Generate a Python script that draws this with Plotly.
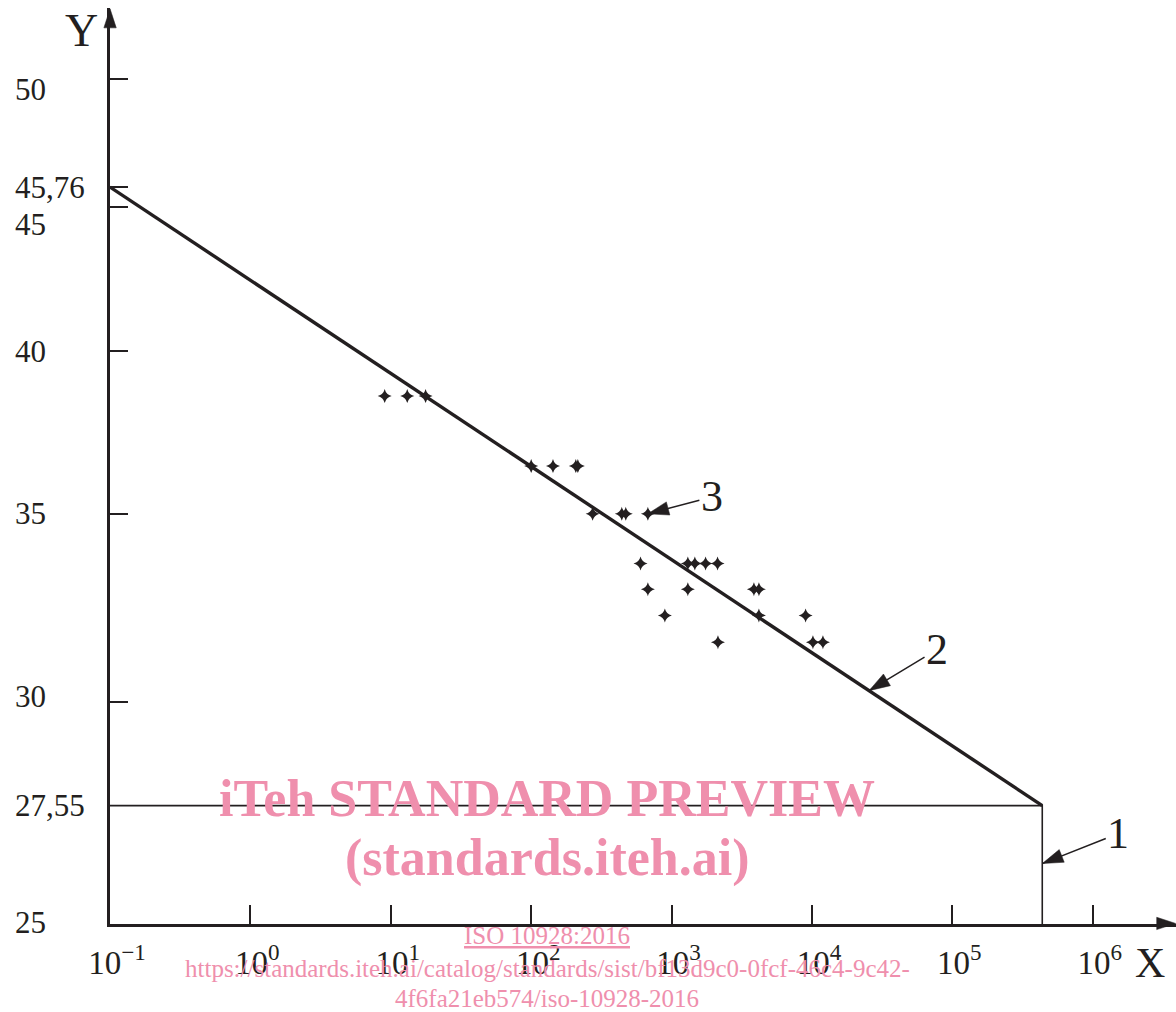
import math
import plotly.graph_objects as go

# ---------------- data ----------------
# measured points (crosses)
point_x = [9.05, 13.1, 17.7,
           100, 143, 208, 215,
           274, 442, 472, 678,
           601, 1306, 1465, 1747, 2126,
           678, 1306, 3860, 4190,
           896, 4190, 9010,
           2140, 10160, 11970]
point_y = [38.55, 38.55, 38.55,
           36.4, 36.4, 36.4, 36.4,
           35.0, 35.0, 35.0, 35.0,
           33.6, 33.6, 33.6, 33.6, 33.6,
           32.9, 32.9, 32.9, 32.9,
           32.2, 32.2, 32.2,
           31.5, 31.5, 31.5]

# regression line (2)
fit_x = [0.1, 4.37e5]
fit_y = [45.76, 27.55]

# limit lines (1)
limit_x = 4.37e5
limit_y = 27.55
y_floor = 25

# axis ticks
x_tick_vals = [0.1, 1, 10, 100, 1e3, 1e4, 1e5, 1e6]
x_tick_text = ["10<sup>−1</sup>", "10<sup>0</sup>", "10<sup>1</sup>", "10<sup>2</sup>",
               "10<sup>3</sup>", "10<sup>4</sup>", "10<sup>5</sup>", "10<sup>6</sup>"]
y_tick_marks = [30, 35, 40, 45, 45.76, 50]
y_label_vals = [25, 27.55, 30, 35, 40, 45, 45.76, 50]
y_label_text = ["25", "27,55", "30", "35", "40", "45", "45,76", "50"]

# callout targets
callout_labels = ["3", "2", "1"]
callout_2_x = 2.55e4
callout_1_y = 26.27

# ---------------- styles ----------------
INK = "#231f20"
PINK = "#ef8fad"
SERIF = "Liberation Serif, Times New Roman, serif"
X_RANGE = [-1, 6.593]
Y_RANGE = [math.log10(25), math.log10(53)]
label_nudge = {"50": -10, "45": -17, "30": 5, "25": 2}
callout_offsets = [(64, -17), (68, -41), (76, -30)]

fig = go.Figure()

# regression line
fig.add_trace(go.Scatter(x=fit_x, y=fit_y, mode="lines",
                         line=dict(color=INK, width=3.4), hoverinfo="skip"))
# limit lines
fig.add_trace(go.Scatter(x=[fit_x[0], limit_x, limit_x], y=[limit_y, limit_y, y_floor],
                         mode="lines", line=dict(color=INK, width=1.6),
                         hoverinfo="skip", cliponaxis=False))
# data points
fig.add_trace(go.Scatter(x=point_x, y=point_y, mode="markers",
                         marker=dict(symbol="star-diamond", size=10, color=INK,
                                     line=dict(width=0)),
                         hoverinfo="skip"))

# callouts
def log_interp_y(x):
    lx0, lx1 = math.log10(fit_x[0]), math.log10(fit_x[1])
    ly0, ly1 = math.log10(fit_y[0]), math.log10(fit_y[1])
    t = (math.log10(x) - lx0) / (lx1 - lx0)
    return 10 ** (ly0 + t * (ly1 - ly0))

callout_targets = [(point_x[10], point_y[10]),
                   (callout_2_x, log_interp_y(callout_2_x)),
                   (limit_x, callout_1_y)]

annotations = []
head_x, head_y, head_a = [], [], []
for lab, (tx, ty), (ax, ay) in zip(callout_labels, callout_targets, callout_offsets):
    annotations.append(dict(x=math.log10(tx), y=math.log10(ty), xref="x", yref="y",
                            text=lab, showarrow=True, ax=ax, ay=ay,
                            arrowhead=0, arrowwidth=1.5, arrowcolor=INK,
                            font=dict(family=SERIF, size=44, color=INK)))
    head_x.append(tx)
    head_y.append(ty)
    head_a.append(math.degrees(math.atan2(-ax, ay)))

# axis arrow heads (just inside the axis ranges so they are not dropped)
head_x += [10 ** (X_RANGE[0] + 0.0005), 10 ** (X_RANGE[1] - 0.002)]
head_y += [10 ** (Y_RANGE[1] - 0.0003), 10 ** (Y_RANGE[0] + 0.0002)]
head_a += [0, 90]
sizes = [22, 22, 22, 20, 20]
fig.add_trace(go.Scatter(x=head_x, y=head_y, mode="markers", cliponaxis=False,
                         marker=dict(symbol="arrow", size=sizes, angle=head_a,
                                     color=INK, opacity=1, line=dict(width=0.5, color=INK)),
                         hoverinfo="skip"))

# y labels (left aligned)
for val, txt in zip(y_label_vals, y_label_text):
    annotations.append(dict(xref="paper", x=0, xshift=-97, xanchor="left",
                            yref="y", y=math.log10(val), yshift=label_nudge.get(txt, 0),
                            yanchor="middle", text=txt, showarrow=False,
                            font=dict(family=SERIF, size=31, color=INK)))

# axis names
annotations.append(dict(xref="paper", x=0, xshift=-29, yref="paper", y=1, yshift=-22,
                        xanchor="center", yanchor="middle",
                        text="Y", showarrow=False,
                        font=dict(family=SERIF, size=46, color=INK)))
annotations.append(dict(xref="paper", x=1, xshift=-26, yref="paper", y=0, yshift=-39,
                        xanchor="center", yanchor="middle",
                        text="X", showarrow=False,
                        font=dict(family=SERIF, size=42, color=INK)))

# watermark
wm = [("<b>iTeh STANDARD PREVIEW</b>", 0.1368, 52),
      ("<b>(standards.iteh.ai)</b>", 0.0725, 52),
      ("<u>ISO 10928:2016</u>", -0.0127, 25),
      ("https://standards.iteh.ai/catalog/standards/sist/bf13d9c0-0fcf-46c4-9c42-", -0.0486, 25),
      ("4f6fa21eb574/iso-10928-2016", -0.0813, 25)]
for txt, py, fs in wm:
    annotations.append(dict(xref="paper", x=0.41, yref="paper", y=py,
                            xanchor="center", yanchor="middle", text=txt, showarrow=False,
                            font=dict(family=SERIF, size=fs, color=PINK)))

fig.update_layout(
    width=1176, height=1012,
    margin=dict(l=110, r=0, t=8, b=88, pad=0),
    paper_bgcolor="white", plot_bgcolor="white",
    showlegend=False,
    annotations=annotations,
    xaxis=dict(type="log", range=X_RANGE, showgrid=False, zeroline=False,
               showline=True, linewidth=3, linecolor=INK,
               ticks="inside", ticklen=19, tickwidth=1.5, tickcolor=INK,
               tickvals=x_tick_vals, ticktext=x_tick_text,
               tickfont=dict(family=SERIF, size=33, color=INK),
               ticklabelstandoff=7, ticklabelshift=7),
    yaxis=dict(type="log", range=Y_RANGE, showgrid=False, zeroline=False,
               showline=True, linewidth=3, linecolor=INK,
               ticks="inside", ticklen=18, tickwidth=1.5, tickcolor=INK,
               tickvals=y_tick_marks, showticklabels=False),
)

fig.write_html("out.html", config={"displayModeBar": False},
               post_script="document.body.style.margin='0';document.body.style.overflow='hidden';")
